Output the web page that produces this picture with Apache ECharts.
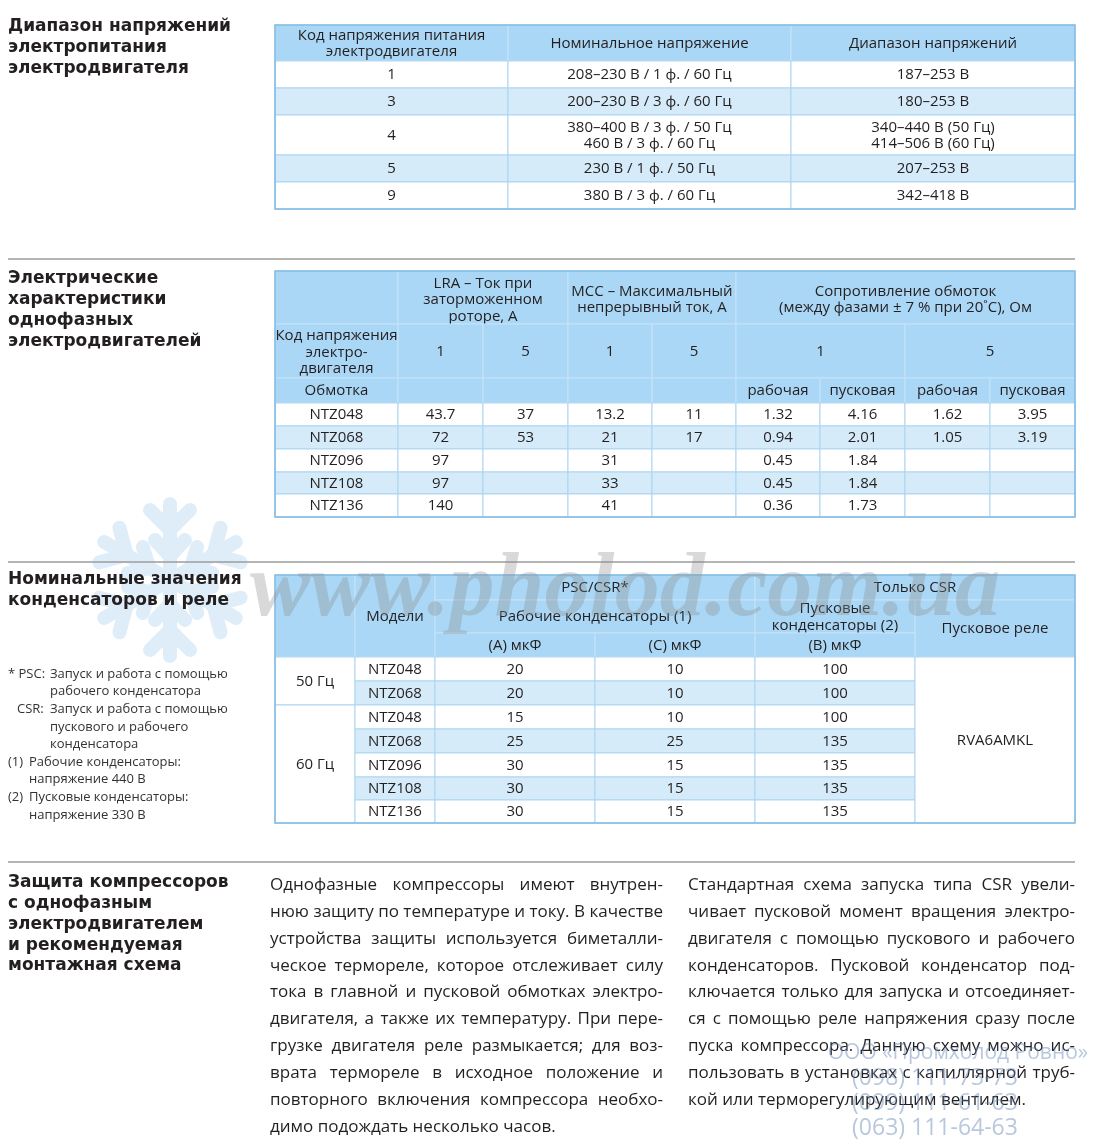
<!DOCTYPE html>
<html>
<head>
<meta charset="utf-8">
<script src="https://cdn.jsdelivr.net/npm/echarts@6/dist/echarts.min.js"></script>
<style>
  html, body { margin: 0; padding: 0; background: #fff; }
  #page { width: 1100px; height: 1147px; }
</style>
</head>
<body>
<div id="page"></div>
<script>
// ---- данные: таблица 1 (напряжения питания)
const t1Header = ['Код напряжения питания\nэлектродвигателя', 'Номинальное напряжение', 'Диапазон напряжений'];
const t1Codes = ['1', '3', '4', '5', '9'];
const t1Nominal = ['208–230 В / 1 ф. / 60 Гц', '200–230 В / 3 ф. / 60 Гц', '380–400 В / 3 ф. / 50 Гц\n460 В / 3 ф. / 60 Гц', '230 В / 1 ф. / 50 Гц', '380 В / 3 ф. / 60 Гц'];
const t1Range = ['187–253 В', '180–253 В', '340–440 В (50 Гц)\n414–506 В (60 Гц)', '207–253 В', '342–418 В'];

// ---- данные: таблица 2 (электрические характеристики)
const t2Models = ['NTZ048', 'NTZ068', 'NTZ096', 'NTZ108', 'NTZ136'];
const t2Lra1 = ['43.7', '72', '97', '97', '140'];
const t2Lra5 = ['37', '53', '', '', ''];
const t2Mcc1 = ['13.2', '21', '31', '33', '41'];
const t2Mcc5 = ['11', '17', '', '', ''];
const t2R1Run = ['1.32', '0.94', '0.45', '0.45', '0.36'];
const t2R1Start = ['4.16', '2.01', '1.84', '1.84', '1.73'];
const t2R5Run = ['1.62', '1.05', '', '', ''];
const t2R5Start = ['3.95', '3.19', '', '', ''];

// ---- данные: таблица 3 (конденсаторы и реле)
const t3Freqs = ['50 Гц', '60 Гц'];
const t3FreqRows = [2, 5];
const t3Models = ['NTZ048', 'NTZ068', 'NTZ048', 'NTZ068', 'NTZ096', 'NTZ108', 'NTZ136'];
const t3CapA = [20, 20, 15, 25, 30, 30, 30];
const t3CapC = [10, 10, 10, 25, 15, 15, 15];
const t3CapB = [100, 100, 100, 135, 135, 135, 135];
const t3Relay = 'RVA6AMKL';

// ---- тексты
const titles = [
  ['Диапазон напряжений', 'электропитания', 'электродвигателя'],
  ['Электрические', 'характеристики', 'однофазных', 'электродвигателей'],
  ['Номинальные значения', 'конденсаторов и реле'],
  ['Защита компрессоров', 'с однофазным', 'электродвигателем', 'и рекомендуемая', 'монтажная схема']
];
const notes = [
  ['* PSC:', 'Запуск и работа с помощью'], ['', 'рабочего конденсатора'],
  ['CSR:', 'Запуск и работа с помощью'], ['', 'пускового и рабочего'], ['', 'конденсатора'],
  ['(1)', 'Рабочие конденсаторы:'], ['', 'напряжение 440 В'],
  ['(2)', 'Пусковые конденсаторы:'], ['', 'напряжение 330 В']
];
const para1 = [
  'Однофазные компрессоры имеют внутрен-',
  'нюю защиту по температуре и току. В качестве',
  'устройства защиты используется биметалли-',
  'ческое термореле, которое отслеживает силу',
  'тока в главной и пусковой обмотках электро-',
  'двигателя, а также их температуру. При пере-',
  'грузке двигателя реле размыкается; для воз-',
  'врата термореле в исходное положение и',
  'повторного включения компрессора необхо-',
  'димо подождать несколько часов.'
];
const para2 = [
  'Стандартная схема запуска типа CSR увели-',
  'чивает пусковой момент вращения электро-',
  'двигателя с помощью пускового и рабочего',
  'конденсаторов. Пусковой конденсатор под-',
  'ключается только для запуска и отсоединяет-',
  'ся с помощью реле напряжения сразу после',
  'пуска компрессора. Данную схему можно ис-',
  'пользовать в установках с капиллярной труб-',
  'кой или терморегулирующим вентилем.'
];
const stamp = ['ООО «Промхолод Ровно»', '(098) 111-73-73', '(099) 111-61-63', '(063) 111-64-63'];

// ---- стили и сетки
const HEAD = '#aad7f5', ALT = '#d5ebf9', WHITE = '#ffffff';
const HEAD_LINE = '#c6e3f7', BODY_LINE = '#add5f0', BORDER = '#80bbe4';
const INK = '#231f20';
const CELL_FONT = '15px "Open Sans"';
const TITLE_FONT = 'bold 17px "DejaVu Sans"';
const BODY_FONT = '17px "Open Sans"';

const grid1 = { cols: [275, 508, 791, 1075], rows: [25, 61, 88, 115, 155, 182, 209] };
const grid2 = { cols: [275, 398, 483, 568, 652, 736, 820, 905, 990, 1075], rows: [271, 324, 378, 403, 426, 449, 472, 494, 517] };
const grid3 = { cols: [275, 355, 435, 595, 755, 915, 1075], rows: [575, 600, 633, 657, 681, 705, 729, 753, 777, 800, 823] };

const els = [];
const measure = document.createElement('canvas').getContext('2d');

const text = (x, y, s, font, extra) => ({
  type: 'text', silent: true,
  style: Object.assign({ x, y, text: s, font, fill: INK, textAlign: 'center', textVerticalAlign: 'middle', lineHeight: 16.5 }, extra || {})
});

function drawTable(g, cells) {
  cells.forEach(c => {
    const rs = c.rs || 1, cs = c.cs || 1;
    const x0 = g.cols[c.c], x1 = g.cols[c.c + cs];
    const y0 = g.rows[c.r], y1 = g.rows[c.r + rs];
    els.push({
      type: 'rect', silent: true,
      shape: { x: x0, y: y0, width: x1 - x0, height: y1 - y0 },
      style: { fill: c.fill, stroke: c.fill === HEAD ? HEAD_LINE : BODY_LINE, lineWidth: 1 }
    });
    if (c.text !== undefined && c.text !== '') {
      els.push(text((x0 + x1) / 2, c.ty !== undefined ? c.ty : (y0 + y1) / 2 + 0.5, String(c.text), CELL_FONT));
    }
  });
  const X = g.cols, Y = g.rows;
  els.push({
    type: 'rect', silent: true,
    shape: { x: X[0], y: Y[0], width: X[X.length - 1] - X[0], height: Y[Y.length - 1] - Y[0] },
    style: { fill: 'none', stroke: BORDER, lineWidth: 1.5 }
  });
}

function justify(lines, x0, x1, y0, step) {
  measure.font = BODY_FONT;
  const space = measure.measureText(' ').width;
  lines.forEach((ln, i) => {
    const words = ln.split(' ');
    const widths = words.map(w => measure.measureText(w).width);
    const total = widths.reduce((a, b) => a + b, 0);
    const last = i === lines.length - 1;
    const gap = last || words.length < 2 ? space : Math.max(2, (x1 - x0 - total) / (words.length - 1));
    let x = x0;
    words.forEach((w, k) => {
      els.push(text(x, y0 + i * step, w, BODY_FONT, { textAlign: 'left' }));
      x += widths[k] + gap;
    });
  });
}

// ---- снежинка (водяной знак)
const flakeStyle = { stroke: '#dfedf9', lineWidth: 14, lineCap: 'round' };
const seg = (x1, y1, x2, y2) => ({ type: 'line', silent: true, shape: { x1, y1, x2, y2 }, style: flakeStyle });
els.push({
  type: 'group', x: 170, y: 580, silent: true,
  children: [0, 1, 2, 3, 4, 5].map(k => ({
    type: 'group', rotation: k * Math.PI / 3,
    children: [seg(0, 0, 0, -76), seg(0, -50, -20, -70), seg(0, -50, 20, -70), seg(0, -24, -15, -40), seg(0, -24, 15, -40)]
  }))
});

// ---- разделители
[259, 562, 862].forEach(y => els.push({
  type: 'line', silent: true, shape: { x1: 8, y1: y, x2: 1075, y2: y },
  style: { stroke: '#9d9d9d', lineWidth: 1.5 }
}));

// ---- заголовки разделов
const titleTops = [27, 279, 580, 883];
titles.forEach((t, i) => t.forEach((ln, k) => {
  els.push(text(8, titleTops[i] + k * 20.7, ln, TITLE_FONT, { textAlign: 'left' }));
}));

// ---- таблица 1
const cells1 = t1Header.map((h, c) => ({ r: 0, c, text: h, fill: HEAD }));
t1Codes.forEach((code, i) => {
  const fill = i % 2 ? ALT : WHITE;
  [code, t1Nominal[i], t1Range[i]].forEach((v, c) => cells1.push({ r: i + 1, c, text: v, fill }));
});
drawTable(grid1, cells1);

// ---- таблица 2
const cells2 = [
  { r: 0, c: 0, fill: HEAD },
  { r: 0, c: 1, cs: 2, fill: HEAD, text: 'LRA – Ток при\nзаторможенном\nроторе, А', ty: 300 },
  { r: 0, c: 3, cs: 2, fill: HEAD, text: 'MCC – Максимальный\nнепрерывный ток, А', ty: 299.5 },
  { r: 0, c: 5, cs: 4, fill: HEAD, text: 'Сопротивление обмоток\n(между фазами ± 7 % при 20˚C), Ом', ty: 299.5 },
  { r: 1, c: 0, fill: HEAD, text: 'Код напряжения\nэлектро-\nдвигателя', ty: 352.5 },
  { r: 1, c: 1, fill: HEAD, text: '1' }, { r: 1, c: 2, fill: HEAD, text: '5' },
  { r: 1, c: 3, fill: HEAD, text: '1' }, { r: 1, c: 4, fill: HEAD, text: '5' },
  { r: 1, c: 5, cs: 2, fill: HEAD, text: '1' }, { r: 1, c: 7, cs: 2, fill: HEAD, text: '5' },
  { r: 2, c: 0, fill: HEAD, text: 'Обмотка' },
  { r: 2, c: 1, fill: HEAD }, { r: 2, c: 2, fill: HEAD }, { r: 2, c: 3, fill: HEAD }, { r: 2, c: 4, fill: HEAD },
  { r: 2, c: 5, fill: HEAD, text: 'рабочая' }, { r: 2, c: 6, fill: HEAD, text: 'пусковая' },
  { r: 2, c: 7, fill: HEAD, text: 'рабочая' }, { r: 2, c: 8, fill: HEAD, text: 'пусковая' }
];
t2Models.forEach((m, i) => {
  const fill = i % 2 ? ALT : WHITE;
  [m, t2Lra1[i], t2Lra5[i], t2Mcc1[i], t2Mcc5[i], t2R1Run[i], t2R1Start[i], t2R5Run[i], t2R5Start[i]]
    .forEach((v, c) => cells2.push({ r: i + 3, c, text: v, fill }));
});
drawTable(grid2, cells2);

// ---- таблица 3
const cells3 = [
  { r: 0, c: 0, rs: 3, fill: HEAD },
  { r: 0, c: 1, rs: 3, fill: HEAD, text: 'Модели' },
  { r: 0, c: 2, cs: 2, fill: HEAD, text: 'PSC/CSR*' },
  { r: 0, c: 4, cs: 2, fill: HEAD, text: 'Только CSR' },
  { r: 1, c: 2, cs: 2, fill: HEAD, text: 'Рабочие конденсаторы (1)' },
  { r: 1, c: 4, fill: HEAD, text: 'Пусковые\nконденсаторы (2)' },
  { r: 1, c: 5, rs: 2, fill: HEAD, text: 'Пусковое реле' },
  { r: 2, c: 2, fill: HEAD, text: '(A) мкФ' }, { r: 2, c: 3, fill: HEAD, text: '(C) мкФ' },
  { r: 2, c: 4, fill: HEAD, text: '(B) мкФ' }
];
let fr = 3;
t3Freqs.forEach((f, i) => { cells3.push({ r: fr, c: 0, rs: t3FreqRows[i], fill: WHITE, text: f }); fr += t3FreqRows[i]; });
t3Models.forEach((m, i) => {
  const fill = i % 2 ? ALT : WHITE;
  [m, t3CapA[i], t3CapC[i], t3CapB[i]].forEach((v, k) => cells3.push({ r: i + 3, c: k + 1, text: v, fill }));
});
cells3.push({ r: 3, c: 5, rs: t3Models.length, fill: WHITE, text: t3Relay });
drawTable(grid3, cells3);

// ---- примечания
notes.forEach((n, i) => {
  const y = 674 + i * 17.6;
  const numbered = i >= 5;
  if (n[0] !== '') els.push(text(n[0] === 'CSR:' ? 17 : 8, y, n[0], '13px "Open Sans"', { textAlign: 'left', fill: '#333' }));
  els.push(text(numbered ? 29 : 50, y, n[1], '13px "Open Sans"', { textAlign: 'left', fill: '#333' }));
});

// ---- текст внизу
justify(para1, 270, 663, 885, 26.9);
justify(para2, 688, 1075, 885, 26.9);

// ---- водяные знаки
measure.font = 'italic bold 100px "Liberation Serif"';
const wmSize = 100 * 750 / measure.measureText('www.pholod.com.ua').width;
els.push(text(625, 592, 'www.pholod.com.ua', 'italic bold ' + wmSize.toFixed(1) + 'px "Liberation Serif"', { fill: 'rgba(140,140,140,0.33)' }));
els.push(text(958, 1053, stamp[0], '21px "Open Sans"', { fill: 'rgba(95,130,180,0.45)' }));
[1078, 1103, 1128].forEach((y, i) => els.push(text(935, y, stamp[i + 1], '23px "Open Sans"', { fill: 'rgba(95,130,180,0.45)' })));

const chart = echarts.init(document.getElementById('page'), null, { renderer: 'canvas' });
chart.setOption({ animation: false, graphic: { elements: els } });
window.addEventListener('resize', () => chart.resize());
</script>
</body>
</html>
